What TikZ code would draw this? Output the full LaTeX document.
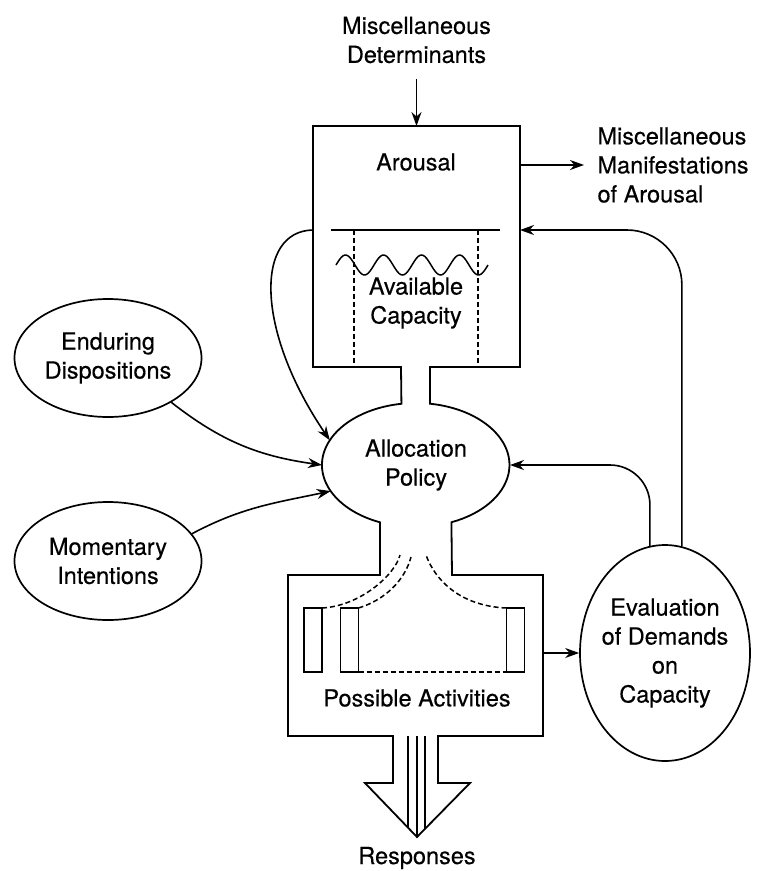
\documentclass[tikz,border=0pt]{standalone}
\usepackage{fontspec}
\setmainfont{TeX Gyre Heros}[BoldFont=TeX Gyre Heros, BoldFeatures={FakeBold=0.35}]
\usetikzlibrary{positioning, arrows.meta, shapes}

\begin{document}
\begin{tikzpicture}
		[x=1pt, y=-1pt,
		every node/.style={font=\fontsize{23.5}{29}\selectfont\bfseries, align=center},
		oval/.style={draw, ellipse, line width=1.7pt, inner sep=0pt},
		area/.style={inner sep=0pt, outer sep=0pt},
		slot/.style={draw, line width=1.6pt, minimum width=18pt, minimum height=64pt, inner sep=0pt, outer sep=0pt},
		line/.style={line width=1.8pt},
		dash line/.style={line width=1.5pt, dash pattern=on 5pt off 3pt},
		arr/.style={-{Stealth[length=14pt, width=10pt]}, line width=1.6pt}]
		\useasboundingbox (0,0) rectangle (760,871);

		% nodes %
		\node (determ) at (416.5,40) {Miscellaneous\\Determinants};
		\node[anchor=west, align=left] (manif) at (594,165) {Miscellaneous\\Manifestations\\of Arousal};
		\node[area, minimum width=207pt, minimum height=241pt] (arousal) at (416.5,246.5) {};
		\node (arousaltxt) at (416,162) {Arousal};
		\node (capacity) at (416,303) {Available\\Capacity};
		\node[ellipse, area, minimum width=188pt, minimum height=124pt] (alloc) at (416,465) {Allocation\\Policy};
		\node[oval, minimum width=187pt, minimum height=118pt] (enduring) at (108,358) {Enduring\\Dispositions};
		\node[oval, minimum width=187pt, minimum height=118pt] (momentary) at (108,561) {Momentary\\Intentions};
		\node[area, minimum width=255pt, minimum height=161pt] (activities) at (415.5,655.5) {};
		\node (possible) at (417,698) {Possible Activities};
		\node[oval, inner xsep=-6pt, minimum width=170pt, minimum height=216pt] (evaluation) at (665,653) {Evaluation\\of Demands\\on\\Capacity};
		\node (responses) at (417,858) {Responses};
		\node[slot] (slotA) at (313,640) {};
		\node[slot] (slotB) at (349.5,640) {};
		\node[slot] (slotC) at (515.5,640) {};
		\coordinate (capline) at (331,230);
		\coordinate (spoutA) at (400,555);
		\coordinate (spoutB) at (411,557);
		\coordinate (spoutC) at (426,555);

		% outline %
		\draw[line] (401,367) -- (313,367) -- (313,126) -- (520,126) -- (520,367) -- (430,367) -- (430,403.7)
			arc[start angle=-81.1, end angle=67.5, x radius=94, y radius=62]
			-- (452,575) -- (543,575) -- (543,736) -- (438,736) -- (438,783) -- (470,783) -- (417,837)
			-- (365,783) -- (393,783) -- (393,736) -- (288,736) -- (288,575) -- (380,575) -- (380,522.3)
			arc[start angle=112.5, end angle=261.1, x radius=94, y radius=62] -- cycle;
		\foreach \lx/\ly in {408/828, 417/837, 425/829}
			\draw[line width=1.3pt] (\lx,736) -- (\lx,\ly);

		% capacity %
		\draw[line] (capline) -- (500,230);
		\draw[dash line] (354,230) -- (354,367);
		\draw[dash line] (478,230) -- (478,367);
		\draw[line width=1.5pt] plot[domain=0:152, samples=90, smooth] ({336+\x},{265-10*sin(\x*9.4737)});

		% activities %
		\draw[dash line] (slotA.north east) .. controls (360,606) and (395,575) .. (spoutA);
		\draw[dash line] (slotB.north east) .. controls (385,600) and (405,580) .. (spoutB);
		\draw[dash line] (slotC.north west) .. controls (460,606) and (435,580) .. (spoutC);
		\draw[dash line] (slotB.south east) -- (slotC.south west);

		% edges %
		\draw[arr, line width=1.2pt, shorten <=12pt] (determ) -- (arousal.north);
		\draw[arr, shorten >=10pt] (arousal.east |- manif.west) -- (manif.west);
		\draw[arr] (arousal.west |- capline) .. controls (255,231) and (255,330) .. (alloc.164);
		\draw[arr] (enduring.-35) to[out=-38, in=172] (alloc.180);
		\draw[arr] (momentary.18) to[out=28, in=192] (alloc.197);
		\draw[arr, rounded corners=55pt] (evaluation.81) |- (arousal.east |- capline);
		\draw[arr, rounded corners=40pt] (evaluation.98) |- (alloc.east);
		\draw[arr] (activities.east |- evaluation.west) -- (evaluation.west);
\end{tikzpicture}
\end{document}
